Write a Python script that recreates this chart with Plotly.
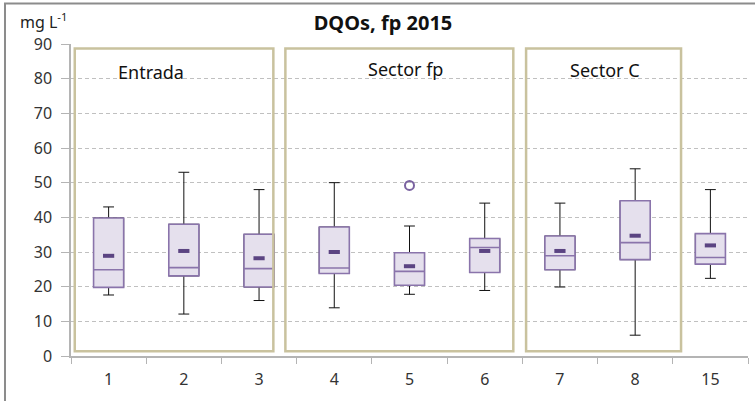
import plotly.graph_objects as go

# Sampling points and box-plot statistics (DQO, mg L-1)
points = ["1", "2", "3", "4", "5", "6", "7", "8", "15"]
lower = [17.6, 12.1, 16.0, 13.9, 17.8, 18.9, 19.9, 6.0, 22.4]
q1 = [19.8, 23.1, 19.9, 23.8, 20.4, 24.1, 24.9, 27.8, 26.5]
median = [24.9, 25.5, 25.2, 25.4, 24.4, 31.3, 28.9, 32.7, 28.4]
q3 = [39.8, 38.0, 35.1, 37.2, 29.8, 33.9, 34.6, 44.8, 35.3]
upper = [43.0, 53.0, 48.0, 50.0, 37.5, 44.1, 44.1, 54.0, 48.0]
mean = [28.9, 30.3, 28.2, 30.0, 25.9, 30.3, 30.3, 34.7, 31.9]
outlier_points = ["5"]
outlier_values = [49.2]

groups = ["Entrada", "Sector fp", "Sector C"]

FONT = "Noto Sans"
BOX_FILL = "#e5e0ed"
BOX_LINE = "#8a74ab"
MEAN_COLOR = "#5b4482"
FRAME = "#c9c29e"
GRID = "#c0c0c0"
AXIS = "#b4b4b4"

fig = go.Figure()

# whiskers (black), drawn underneath the purple boxes
fig.add_trace(go.Box(
    x=points, q1=q1, median=median, q3=q3,
    lowerfence=lower, upperfence=upper,
    width=0.4, whiskerwidth=0.36, boxpoints=False,
    line=dict(color="#111111", width=1), fillcolor="rgba(0,0,0,0)",
    showlegend=False, hoverinfo="skip",
))
# boxes
fig.add_trace(go.Box(
    x=points, q1=q1, median=median, q3=q3,
    lowerfence=q1, upperfence=q3,
    width=0.4, whiskerwidth=0, boxpoints=False,
    line=dict(color=BOX_LINE, width=1.6), fillcolor=BOX_FILL,
    showlegend=False,
))
# means
fig.add_trace(go.Scatter(
    x=points, y=mean, mode="markers",
    marker=dict(symbol="line-ew", size=8, line=dict(color=MEAN_COLOR, width=4)),
    showlegend=False,
))
# outliers
fig.add_trace(go.Scatter(
    x=outlier_points, y=outlier_values, mode="markers",
    marker=dict(symbol="circle-open", size=9, color="#7a62a0", line=dict(width=2)),
    showlegend=False,
))

# group frames
frames = [(-0.45, 2.19), (2.35, 5.38), (5.55, 7.61)]
label_x = [0.57, 3.95, 6.60]
label_y = [81.9, 82.7, 82.6]
shapes = []
for (a, b) in frames:
    shapes.append(dict(type="rect", xref="x", yref="y", x0=a, x1=b, y0=1.4, y1=88.7,
                       line=dict(color=FRAME, width=2.5), layer="above"))
# outer chart border
shapes.append(dict(type="rect", xref="paper", yref="paper", x0=-0.0975, x1=1.2,
                   y0=-0.5, y1=1.1296, line=dict(color="#8c8c8c", width=2)))

annotations = [
    dict(x=x, y=y, xref="x", yref="y", text=g, showarrow=False,
         font=dict(family=FONT, size=18, color="#111111"))
    for g, x, y in zip(groups, label_x, label_y)
]
# unit label, positioned relative to the plot area
annotations.append(dict(x=(43 - 71) / 677, y=(356 - 20) / 312.5, xref="paper", yref="paper",
                        xanchor="center", yanchor="middle", text="mg L<sup>-1</sup>",
                        showarrow=False, font=dict(family=FONT, size=16, color="#222222")))

fig.update_layout(
    width=755, height=401,
    margin=dict(l=71, r=7, t=44, b=45),
    paper_bgcolor="white", plot_bgcolor="white",
    boxmode="overlay",
    title=dict(text="<b>DQOs, fp 2015</b>", x=383 / 755, xanchor="center",
               y=1 - 23 / 401, yanchor="middle",
               font=dict(family=FONT, size=20, color="#111111")),
    shapes=shapes,
    annotations=annotations,
    xaxis=dict(type="category", categoryorder="array", categoryarray=points,
               range=[-0.5, 8.5],
               showline=True, linecolor=AXIS, linewidth=1.5,
               ticks="outside", tickson="boundaries", ticklen=6, tickcolor=AXIS,
               showgrid=False, zeroline=False,
               tickfont=dict(family=FONT, size=16, color="#333333"),
               ticklabelstandoff=8),
    yaxis=dict(range=[0, 90], dtick=10, showline=True, linecolor=AXIS, linewidth=1.5,
               ticks="outside", ticklen=8, tickcolor=AXIS,
               showgrid=True, gridcolor=GRID, griddash="4px,3px", gridwidth=1,
               zeroline=False,
               tickfont=dict(family=FONT, size=16, color="#333333"),
               ticklabelstandoff=6),
)

fig.write_html("out.html")
